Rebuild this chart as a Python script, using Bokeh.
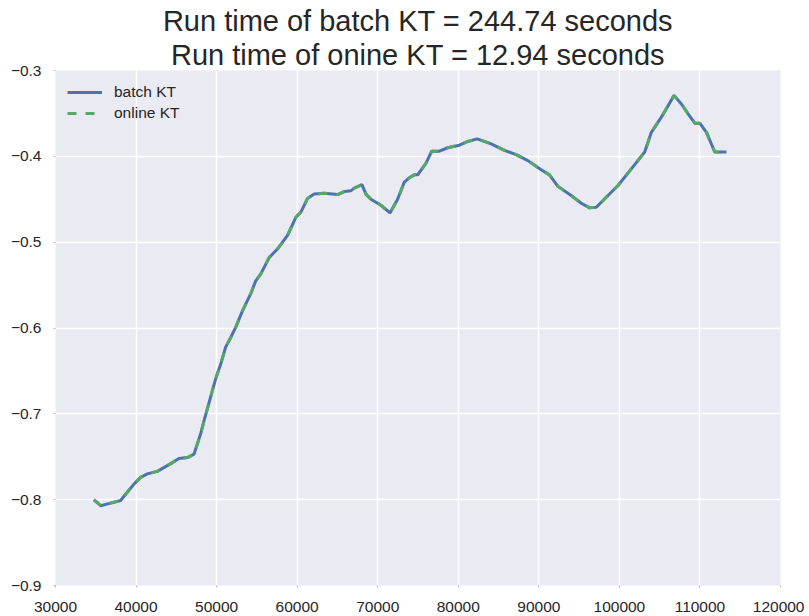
from bokeh.plotting import figure
from bokeh.models import Title, FixedTicker, CustomJSTickFormatter, Range1d
from bokeh.embed import file_html
from bokeh.resources import INLINE

# ---- data ----
iterations = [34760, 35600, 36840, 38080, 39110, 39820, 40570, 41400, 42640, 44300,
              45330, 46370, 47190, 47610, 48030, 48440, 49890, 50510, 51130, 51760,
              52380, 53210, 54240, 54860, 55490, 56520, 57550, 58800, 59840, 60460,
              61290, 62110, 63360, 65020, 65850, 66680, 67090, 68040, 68540, 69160,
              70400, 71520, 72470, 73300, 73920, 74540, 74960, 76000, 76700, 77650,
              78690, 80140, 81180, 82340, 84080, 85740, 87190, 88640, 90290, 91320,
              92370, 94020, 95270, 96300, 97130, 99830, 101480, 103140, 103970, 105210,
              106780, 107700, 108530, 109360, 109980, 110810, 111840, 113290]

batch_kt = [-0.800, -0.807, -0.804, -0.801, -0.789, -0.781, -0.774, -0.770, -0.767, -0.758,
            -0.752, -0.751, -0.747, -0.735, -0.723, -0.708, -0.659, -0.642, -0.622, -0.611,
            -0.599, -0.580, -0.560, -0.545, -0.537, -0.518, -0.508, -0.492, -0.471, -0.465,
            -0.449, -0.444, -0.443, -0.4445, -0.441, -0.440, -0.437, -0.433, -0.444, -0.450,
            -0.457, -0.466, -0.450, -0.430, -0.425, -0.4216, -0.4216, -0.408, -0.394, -0.394,
            -0.390, -0.387, -0.3827, -0.3796, -0.3854, -0.393, -0.398, -0.405, -0.4157, -0.4216,
            -0.435, -0.4456, -0.4546, -0.460, -0.4593, -0.434, -0.4146, -0.395, -0.372, -0.3544,
            -0.329, -0.339, -0.3505, -0.3614, -0.3614, -0.372, -0.395, -0.395]

online_kt = [-0.800, -0.807, -0.804, -0.801, -0.789, -0.781, -0.774, -0.770, -0.767, -0.758,
             -0.752, -0.751, -0.747, -0.735, -0.723, -0.708, -0.659, -0.642, -0.622, -0.611,
             -0.599, -0.580, -0.560, -0.545, -0.537, -0.518, -0.508, -0.492, -0.471, -0.465,
             -0.449, -0.444, -0.443, -0.4445, -0.441, -0.440, -0.437, -0.433, -0.444, -0.450,
             -0.457, -0.466, -0.450, -0.430, -0.425, -0.4216, -0.4216, -0.408, -0.394, -0.394,
             -0.390, -0.387, -0.3827, -0.3796, -0.3854, -0.393, -0.398, -0.405, -0.4157, -0.4216,
             -0.435, -0.4456, -0.4546, -0.460, -0.4593, -0.434, -0.4146, -0.395, -0.372, -0.3544,
             -0.329, -0.339, -0.3505, -0.3614, -0.3614, -0.372, -0.395, -0.395]

x_ticks = [30000, 40000, 50000, 60000, 70000, 80000, 90000, 100000, 110000, 120000]
y_ticks = [-0.9, -0.8, -0.7, -0.6, -0.5, -0.4, -0.3]
series_names = ["batch KT", "online KT"]
title_lines = ["Run time of batch KT = 244.74 seconds",
               "Run time of onine KT = 12.94 seconds"]

FONT = "Liberation Sans"
TEXT = "#262626"

p = figure(frame_width=725, frame_height=515,
           x_range=Range1d(30000, 120000), y_range=Range1d(-0.9, -0.3),
           output_backend="svg", toolbar_location=None,
           min_border_left=55, min_border_right=24, min_border_top=70, min_border_bottom=29)

p.background_fill_color = "#EAEAF2"
p.border_fill_color = "white"
p.outline_line_color = None

p.xaxis.ticker = FixedTicker(ticks=x_ticks)
p.yaxis.ticker = FixedTicker(ticks=y_ticks)
p.xgrid.ticker = FixedTicker(ticks=x_ticks)
p.ygrid.ticker = FixedTicker(ticks=y_ticks)
p.grid.grid_line_color = "white"
p.grid.grid_line_width = 1.5

p.yaxis.formatter = CustomJSTickFormatter(code="return tick.toFixed(1).replace('-', '\u2212');")
p.xaxis.formatter = CustomJSTickFormatter(code="return tick.toFixed(0);")

for ax in (p.xaxis[0], p.yaxis[0]):
    ax.axis_line_color = None
    ax.major_tick_in = 0
    ax.major_tick_out = 2
    ax.major_tick_line_color = "#bbbbbb"
    ax.minor_tick_line_color = None
    ax.major_label_text_font = FONT
    ax.major_label_text_font_size = "15.5px"
    ax.major_label_text_color = TEXT
p.xaxis.major_label_standoff = 14
p.yaxis.major_label_standoff = 12

r1 = p.line(iterations, batch_kt, line_color="#4C72B0", line_width=3,
            legend_label=series_names[0])
r2 = p.line(iterations, online_kt, line_color="#55A868", line_width=3,
            line_dash="9 9", legend_label=series_names[1])

lg = p.legend[0]
lg.location = "top_left"
lg.background_fill_alpha = 0
lg.border_line_alpha = 0
lg.margin = 2
lg.padding = 10
lg.spacing = 1
lg.glyph_width = 35
lg.label_standoff = 12
lg.label_text_font = FONT
lg.label_text_font_size = "15.5px"
lg.label_text_color = TEXT

# two-line title: the later-added Title sits farther from the plot
for line in (title_lines[1], title_lines[0]):
    p.add_layout(Title(text=line, align="center", text_font=FONT, text_font_size="29px",
                       text_font_style="normal", text_color=TEXT, standoff=0), "above")

open("out.html", "w").write(file_html(p, INLINE))
